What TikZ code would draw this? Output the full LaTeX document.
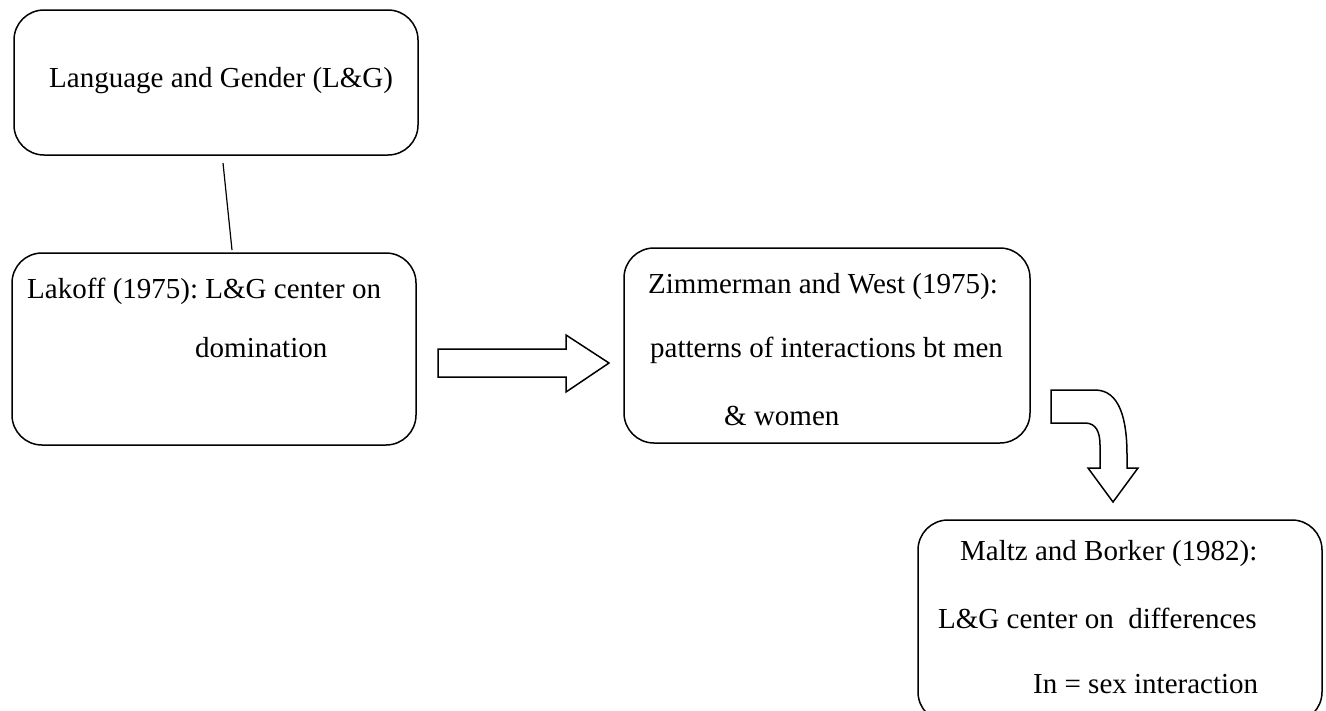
\documentclass[tikz,border=0pt]{standalone}
\usepackage{fontspec}
\setmainfont{Liberation Serif}
\frenchspacing
\begin{document}
\begin{tikzpicture}[x=1pt,y=-1pt,
  box/.style={draw,line width=1.5pt,rounded corners=30pt,inner sep=0pt},
  txt/.style={anchor=base west,inner sep=0pt,font=\fontsize{29}{34}\selectfont},
  blockarrow/.style={draw,line width=1.5pt,line join=miter,fill=white}]
\clip (0,0) rectangle (1326,710);
\fill[white] (0,0) rectangle (1326,710);

% boxes
\node[box,minimum width=404pt,minimum height=145pt] (lg)  at (216,82.5) {};
\node[box,minimum width=404pt,minimum height=192pt] (lak) at (214,349) {};
\node[box,minimum width=406pt,minimum height=195pt] (zw)  at (827,345.5) {};
\node[box,minimum width=404pt,minimum height=202pt] (mb)  at (1120,621) {};

% texts
\node[txt] (t1) at (49,87)   {Language and Gender (L\&G)};
\node[txt] (t2) at (27,298)  {Lakoff (1975): L\&G center on};
\node[txt] (t3) at (195,357) {domination};
\node[txt] (t4) at (648,293) {Zimmerman and West (1975):};
\node[txt] (t5) at (650,357) {patterns of interactions bt men};
\node[txt] (t6) at (724,425) {\& women};
\node[txt] (t7) at (960,560) {Maltz and Borker (1982):};
\node[txt] (t8) at (938,628) {L\&G center on\ \ differences};
\node[txt] (t9) at (1033,693) {In = sex interaction};

% link between the first two boxes
\coordinate (la) at (223,163);
\coordinate (lb) at (232,250);
\draw[line width=1.2pt] (la) -- (lb);

% straight block arrow
\draw[blockarrow] (438,349) -- (566,349) -- (566,335) -- (609,363)
  -- (566,392) -- (566,377) -- (438,377) -- cycle;

% bent block arrow
\draw[blockarrow] (1051,390) -- (1095,390)
  .. controls (1120,390) and (1127,420) .. (1127,455) -- (1127,468)
  -- (1138,468) -- (1113,502) -- (1088,468) -- (1100,468) -- (1100,445)
  .. controls (1100,432) and (1096,423) .. (1085,423) -- (1051,423) -- cycle;
\end{tikzpicture}
\end{document}
